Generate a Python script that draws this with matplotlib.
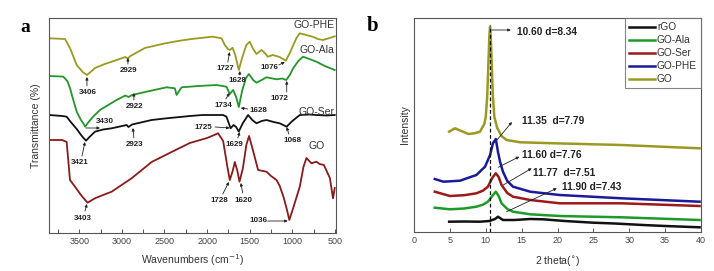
import matplotlib
matplotlib.use("Agg")
import matplotlib.pyplot as plt
from matplotlib.ticker import MultipleLocator

plt.rcParams['font.family'] = ['Liberation Sans', 'DejaVu Sans']

# ---------------- FTIR data (panel a) ----------------
phe_wn = [3850, 3668, 3609, 3530, 3460, 3410, 3360, 3316, 3200, 3120, 2960, 2930, 2900, 2730, 2500, 2343, 2183,
          1937, 1831, 1792, 1757, 1734, 1702, 1670, 1628, 1590, 1540, 1500, 1460, 1421, 1362, 1324, 1288,
          1230, 1150, 1076, 1030, 952, 913, 840, 761, 700, 644, 560, 503]
phe_t = [194.7, 194, 185, 168, 161, 158, 161.5, 165, 169, 171.3, 176, 174.5, 177, 185, 189.5, 192, 194,
         196.3, 194.7, 188, 184, 183, 185.3, 178, 163, 175, 188, 191.3, 184, 179, 183, 180, 176.3,
         178, 176, 172.3, 180, 195, 199.7, 198, 196.3, 194, 193, 195, 196.7]

ala_wn = [3850, 3688, 3640, 3609, 3570, 3530, 3480, 3453, 3430, 3400, 3330, 3257, 3160, 3062, 2960, 2922, 2880,
          2700, 2476, 2378, 2358, 2300, 2100, 1890, 1773, 1734, 1695, 1660, 1628, 1590, 1545, 1510, 1460, 1421,
          1360, 1304, 1186, 1120, 1072, 1030, 991, 930, 875, 800, 718, 620, 503]
ala_t = [157, 156.4, 152, 145, 133, 121.3, 113, 109.7, 106.3, 110, 117, 123, 128, 133, 137.5, 136, 138,
         141.5, 145.7, 144.7, 138, 145.7, 147, 148, 146.3, 139, 143, 136, 126, 142, 155, 159, 153, 150.3,
         153, 155.7, 153.7, 154.5, 153, 158, 164.7, 172, 176.3, 174, 171.3, 167, 163]

ser_wn = [3850, 3700, 3648, 3600, 3530, 3470, 3421, 3380, 3316, 3220, 3120, 2944, 2923, 2880, 2651, 2476,
          2200, 2054, 1812, 1773, 1725, 1690, 1660, 1629, 1580, 1519, 1470, 1421, 1360, 1304, 1220, 1148, 1068,
          1000, 913, 800, 718, 600, 503]
ser_t = [118, 117, 116.3, 111, 104, 97, 92.3, 96, 101.3, 103.5, 104.7, 108, 106, 108.5, 113, 114.7,
         117, 118, 118, 116.3, 104.7, 108, 106, 101.5, 110, 118, 113, 109.7, 112, 113, 111, 109.7, 106.3,
         112, 118, 118.5, 118, 117.5, 118]

go_wn = [3850, 3700, 3648, 3629, 3609, 3550, 3480, 3403, 3316, 3220, 3120, 2886, 2651, 2417, 2203, 2000,
         1871, 1812, 1760, 1734, 1700, 1675, 1645, 1620, 1580, 1540, 1508, 1460, 1402, 1304, 1250, 1186,
         1148, 1100, 1060, 1036, 990, 913, 870, 835, 776, 718, 680, 630, 560, 523, 503]
go_t = [93, 93, 91, 73, 53, 46.3, 38, 30.3, 34.7, 38, 41.3, 54.7, 71, 81, 90, 95,
        99.7, 92, 65, 53, 62, 71, 62, 51.3, 65, 88, 97, 82, 63, 61.3, 57, 53,
        47, 35, 22, 13, 25, 46.3, 66, 75, 69.7, 71.3, 69, 68, 55, 34.7, 45]

ftir_series = [("GO-PHE", phe_wn, phe_t, "#9a9a22"),
               ("GO-Ala", ala_wn, ala_t, "#22962a"),
               ("GO-Ser", ser_wn, ser_t, "#111111"),
               ("GO", go_wn, go_t, "#8b1a1a")]

# peak annotations: (text, text_x, text_y, tail_x, tail_y, head_x, head_y)
ftir_notes = [
    ("3406", 3402, 140.7, 3410, 147, 3410, 156),
    ("2929", 2926, 163, 2929, 169, 2929, 175),
    ("1727", 1792, 164.7, 1757, 171, 1736, 181),
    ("1628", 1644, 153, 1617, 158, 1617, 162),
    ("1076", 1265, 165.3, 1159, 168, 1089, 171),
    ("2922", 2847, 126.3, 2859, 133, 2859, 140),
    ("1734", 1812, 127.3, 1781, 134, 1736, 140),
    ("1628", 1402, 123, 1523, 124, 1605, 125),
    ("1072", 1148, 134.7, 1066, 141, 1066, 152),
    ("3430", 3199, 111.3, 3421, 105, 3257, 105),
    ("3421", 3492, 70.3, 3468, 77, 3433, 91),
    ("2923", 2847, 89, 2859, 95, 2871, 105),
    ("1725", 2047, 105.7, 1906, 106, 1736, 105),
    ("1629", 1675, 89, 1640, 95, 1617, 101),
    ("1068", 999, 92.3, 1042, 99, 1066, 106),
    ("1728", 1851, 32, 1816, 39, 1745, 51),
    ("1620", 1578, 33, 1582, 40, 1605, 50),
    ("1036", 1402, 12, 1288, 12, 1054, 12),
    ("3403", 3453, 14.7, 3433, 22, 3410, 29),
]
ftir_labels = [("GO-PHE", 503, 208, "right"), ("GO-Ala", 503, 183, "right"),
               ("GO-Ser", 503, 121.3, "right"), ("GO", 718, 87, "center")]

# ---------------- XRD data (panel b) ----------------
rgo_th = [4.9, 7.0, 9.2, 10.5, 11.3, 11.7, 12.4, 14.0, 16.2, 18.0, 21.0, 25.0, 28.0, 31.9, 35.0, 39.8]
rgo_i = [10.3, 10.5, 10.3, 11, 13, 15.3, 12, 12, 13, 12.7, 11, 9.3, 8.5, 7, 6, 4.7]

ala_th = [2.9, 5.0, 7.0, 8.7, 9.6, 10.3, 10.9, 11.4, 11.8, 12.2, 13.0, 13.8, 16.2, 20.3, 28.9, 39.8]
ala_i = [24.3, 22.7, 23.5, 25.3, 27.3, 30.3, 36, 40.3, 36, 28.7, 23, 20.3, 17.7, 16, 14.7, 12]

ser_th = [2.9, 5.0, 7.0, 8.7, 9.6, 10.3, 10.9, 11.4, 11.8, 12.2, 13.0, 13.8, 16.2, 20.3, 28.9, 39.8]
ser_i = [40.3, 36, 36.8, 38.7, 41.3, 45.3, 54, 58.7, 55, 47, 39, 35.3, 32, 28.7, 28.7, 26]

phe_th = [2.9, 4.1, 6.4, 8.7, 9.9, 10.6, 11.0, 11.4, 11.7, 12.0, 12.4, 13.0, 13.8, 16.2, 20.3, 28.9, 39.8]
phe_i = [53, 50.3, 51.3, 57, 65.3, 77, 88.7, 93, 80.3, 70, 60.3, 51, 45.3, 40.3, 37, 33.7, 30.3]

go_th = [4.9, 5.7, 6.6, 7.6, 8.5, 9.2, 9.8, 10.0, 10.2, 10.35, 10.5, 10.6, 10.7, 10.85, 11.0, 11.2, 11.6,
         12.2, 12.9, 14.8, 19.6, 28.9, 39.8]
go_i = [100.3, 103.7, 101, 98, 98.8, 100.3, 108, 115, 135, 165, 195, 205.3, 195, 165, 135, 115, 104,
        96, 92, 89.7, 88.7, 87, 83.7]

xrd_series = [("rGO", rgo_th, rgo_i, "#111111"),
              ("GO-Ala", ala_th, ala_i, "#1e9a2a"),
              ("GO-Ser", ser_th, ser_i, "#9a1a1a"),
              ("GO-PHE", phe_th, phe_i, "#1a1a9a"),
              ("GO", go_th, go_i, "#9a9a22")]
go_peak = 10.60
xrd_notes = [
    ("10.60 d=8.34", 14.3, 199.7, 10.86, 202, 13.5, 202),
    ("11.35  d=7.79", 15.0, 111, 11.56, 92, 13.65, 110),
    ("11.60 d=7.76", 15.0, 77, 11.74, 64.7, 14.67, 75.3),
    ("11.77  d=7.51", 16.6, 59.3, 12.44, 47, 16.4, 63.7),
    ("11.90 d=7.43", 20.6, 44.7, 12.9, 20.3, 19.9, 43.7),
]

# ---------------- figure ----------------
fig = plt.figure(figsize=(7.14, 2.71), dpi=100)
axa = fig.add_axes([49/714, 1-233/271, 287/714, 215/271])
axb = fig.add_axes([414/714, 1-232/271, 287/714, 214/271])

spine_c = "#555555"
for ax in (axa, axb):
    for s in ax.spines.values():
        s.set_color(spine_c)
        s.set_linewidth(0.8)
    ax.tick_params(axis='x', direction='in', length=3, width=0.7, color=spine_c,
                   labelsize=6.5, labelcolor="#444444", pad=3)
    ax.tick_params(axis='x', which='minor', direction='in', length=3, width=0.7, color=spine_c)
    ax.set_yticks([])

# panel a
for name, x, y, c in ftir_series:
    axa.plot(x, y, color=c, lw=1.3)
axa.set_xlim(3855, 488)
axa.set_ylim(0, 215)
axa.xaxis.set_major_locator(MultipleLocator(500))
axa.xaxis.set_minor_locator(MultipleLocator(250))
for t, tx, ty, x0, y0, x1, y1 in ftir_notes:
    axa.text(tx, ty, t, fontsize=5.8, fontweight='bold', ha='center', va='center', color="#222222")
    axa.annotate("", xy=(x1, y1), xytext=(x0, y0),
                 arrowprops=dict(arrowstyle="-|>", color="#222222", lw=0.6,
                                 mutation_scale=4, shrinkA=0, shrinkB=0))
for t, tx, ty, ha in ftir_labels:
    axa.text(tx, ty, t, fontsize=7.5, ha=ha, va='center', color="#333333")
axa.set_xlabel("Wavenumbers (cm$^{-1}$)", fontsize=7.5, color="#333333")
axa.xaxis.set_label_coords(0.5, -19/215)
axa.set_ylabel("Transmittance (%)", fontsize=7.5, color="#333333")
axa.yaxis.set_label_coords(-8/287, 0.5)

# panel b
for name, x, y, c in xrd_series:
    axb.plot(x, y, color=c, lw=1.8, label=name)
axb.set_xlim(0, 40)
axb.set_ylim(0, 214)
axb.xaxis.set_major_locator(MultipleLocator(5))
axb.axvline(go_peak, ymin=0, ymax=207/214, color="#111111", lw=0.9, ls=(0, (3, 2)))
for t, tx, ty, x0, y0, x1, y1 in xrd_notes:
    axb.text(tx, ty, t, fontsize=7.3, fontweight='bold', ha='left', va='center', color="#222222")
    axb.annotate("", xy=(x1, y1), xytext=(x0, y0),
                 arrowprops=dict(arrowstyle="-|>", color="#222222", lw=0.6,
                                 mutation_scale=4, shrinkA=0, shrinkB=0))
leg = axb.legend(loc='upper right', fontsize=7.3, frameon=True, fancybox=False,
                 edgecolor="#666666", borderaxespad=0.0, handlelength=2.6,
                 handletextpad=0.15, labelspacing=0.3, borderpad=0.4)
leg.get_frame().set_linewidth(0.8)
for txt in leg.get_texts():
    txt.set_color("#333333")
axb.set_xlabel("2 theta($^{\\circ}$)", fontsize=7.5, color="#333333")
axb.xaxis.set_label_coords(0.5, -22/214)
axb.set_ylabel("Intensity", fontsize=7.5, color="#333333")
axb.yaxis.set_label_coords(-4/287, 0.5)

fig.text(20/714, 1-27/271, "a", fontsize=14, fontweight='bold', family='Liberation Serif',
         ha='left', va='center')
fig.text(367/714, 1-26/271, "b", fontsize=15, fontweight='bold', family='Liberation Serif',
         ha='left', va='center')

fig.savefig("out.png", dpi=100)
